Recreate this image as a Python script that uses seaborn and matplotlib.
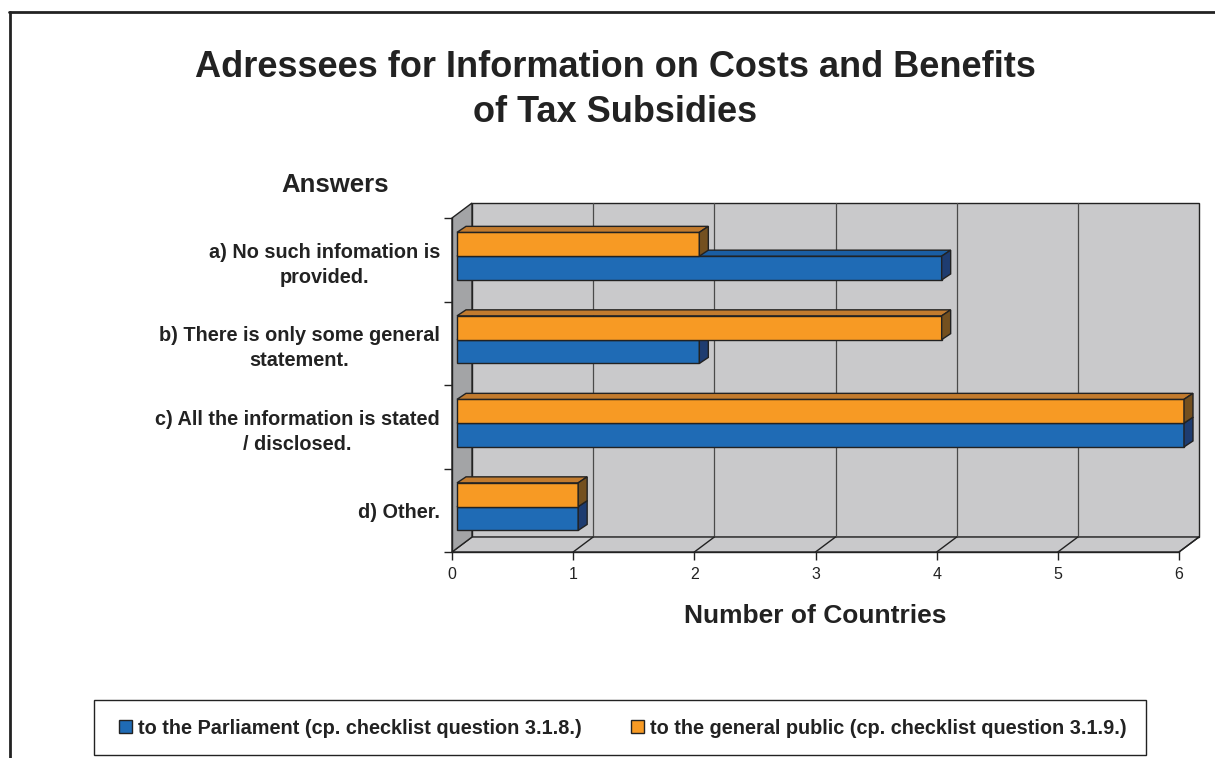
import matplotlib
matplotlib.use("Agg")
import matplotlib.pyplot as plt
from matplotlib import transforms
from matplotlib.patches import Polygon, Rectangle, Patch
from matplotlib.lines import Line2D
import numpy as np
import pandas as pd
import seaborn as sns

# ---- data -------------------------------------------------------------
answers = [
    "a) No such infomation is\nprovided.",
    "b) There is only some general\nstatement.",
    "c) All the information is stated\n/ disclosed.",
    "d) Other.",
]
parliament = [4, 2, 6, 1]
general_public = [2, 4, 6, 1]

label_parliament = "to the Parliament (cp. checklist question 3.1.8.)"
label_public = "to the general public (cp. checklist question 3.1.9.)"

x_ticks = [0, 1, 2, 3, 4, 5, 6]

# ---- style ------------------------------------------------------------
sns.set_theme(style="white")
plt.rcParams["font.family"] = ["Liberation Sans", "DejaVu Sans"]

BLUE, BLUE_SIDE, BLUE_TOP = "#1f6bb5", "#1e3c70", "#1a5ea3"
ORANGE, ORANGE_SIDE, ORANGE_TOP = "#f79a24", "#74501f", "#c27b2e"
WALL, SIDE_WALL, EDGE, GRID = "#c9c9cb", "#a3a4a6", "#222222", "#4a4a4a"

DPI = 100
W, H = 1215, 758
fig = plt.figure(figsize=(W / DPI, H / DPI), dpi=DPI)

# front plane of the pseudo-3D plot area (pixel box)
left_px, right_px, top_px, bottom_px = 452, 1179, 218, 552
ax = fig.add_axes([left_px / W, 1 - bottom_px / H,
                   (right_px - left_px) / W, (bottom_px - top_px) / H])

df = pd.DataFrame({
    "answer": answers * 2,
    "countries": general_public + parliament,
    "addressee": [label_public] * len(answers) + [label_parliament] * len(answers),
})

sns.barplot(data=df, y="answer", x="countries", hue="addressee",
            hue_order=[label_public, label_parliament],
            palette=[ORANGE, BLUE], saturation=1, orient="h", width=0.57,
            edgecolor=EDGE, linewidth=1.0, legend=False, ax=ax)

ax.set_xlim(0, 6)
ax.set_ylim(len(answers) - 0.5, -0.5)
ax.set_xlabel("")
ax.set_ylabel("")
ax.patch.set_visible(False)

# depth offsets in pixels
DX, DY = 20, 15          # front plane -> back wall
BX, BY = 5, 3.6          # front plane -> bar front faces
BD_X, BD_Y = 9, 6        # bar thickness

ident = transforms.IdentityTransform()


def disp(x, y, dx=0.0, dy=0.0):
    px, py = ax.transData.transform((x, y))
    return (px + dx, py + dy)


y_top, y_bot = -0.5, len(answers) - 0.5

# back wall, floor and side wall
ax.add_patch(Polygon([disp(0, y_top, DX, DY), disp(6, y_top, DX, DY),
                      disp(6, y_bot, DX, DY), disp(0, y_bot, DX, DY)],
                     closed=True, fc=WALL, ec=EDGE, lw=1.0,
                     transform=ident, clip_on=False, zorder=0.5))
ax.add_patch(Polygon([disp(0, y_bot), disp(6, y_bot),
                      disp(6, y_bot, DX, DY), disp(0, y_bot, DX, DY)],
                     closed=True, fc=WALL, ec=EDGE, lw=1.0,
                     transform=ident, clip_on=False, zorder=0.6))
ax.add_patch(Polygon([disp(0, y_top), disp(0, y_top, DX, DY),
                      disp(0, y_bot, DX, DY), disp(0, y_bot)],
                     closed=True, fc=SIDE_WALL, ec=EDGE, lw=1.0,
                     transform=ident, clip_on=False, zorder=0.6))

# gridlines on the back wall and across the floor
for k in x_ticks[1:]:
    if k < 6:
        p0, p1 = disp(k, y_top, DX, DY), disp(k, y_bot, DX, DY)
        ax.add_line(Line2D([p0[0], p1[0]], [p0[1], p1[1]], color=GRID, lw=0.9,
                           transform=ident, clip_on=False, zorder=0.7))
    p0, p1 = disp(k, y_bot), disp(k, y_bot, DX, DY)
    ax.add_line(Line2D([p0[0], p1[0]], [p0[1], p1[1]], color=EDGE, lw=1.0,
                       transform=ident, clip_on=False, zorder=0.7))

# bars: shift the front faces into the depth and add top / side faces
shift = ax.transData + transforms.Affine2D().translate(BX, BY)
face_colors = [(ORANGE_TOP, ORANGE_SIDE), (BLUE_TOP, BLUE_SIDE)]
zorders = [4, 3]
for cont, (top_c, side_c), z in zip(ax.containers, face_colors, zorders):
    for bar in cont:
        bar.set_transform(shift)
        bar.set_zorder(z)
        bar.set_clip_on(False)
        x0, y0 = bar.get_x(), bar.get_y()
        w, h = bar.get_width(), bar.get_height()
        xl, yb = disp(x0, y0 + h, BX, BY)
        xr, yt = disp(x0 + w, y0, BX, BY)
        top = [(xl, yt), (xr, yt), (xr + BD_X, yt + BD_Y), (xl + BD_X, yt + BD_Y)]
        side = [(xr, yb), (xr, yt), (xr + BD_X, yt + BD_Y), (xr + BD_X, yb + BD_Y)]
        for pts, c in ((top, top_c), (side, side_c)):
            ax.add_patch(Polygon(pts, closed=True, fc=c, ec=EDGE, lw=1.0,
                                 transform=ident, clip_on=False, zorder=z))

# axes lines and ticks
for s in ("top", "right"):
    ax.spines[s].set_visible(False)
for s in ("left", "bottom"):
    ax.spines[s].set_color(EDGE)
    ax.spines[s].set_linewidth(1.0)
    ax.spines[s].set_zorder(1)

ax.set_xticks(x_ticks)
ax.set_xticklabels([str(t) for t in x_ticks])
ax.tick_params(axis="x", direction="out", length=5.5, width=1.0, color=EDGE,
               labelsize=11.5, labelcolor="#222222", pad=5, bottom=True)
ax.set_yticks(range(len(answers)))
ax.set_yticklabels(answers)
ax.set_yticks(np.arange(-0.5, len(answers), 1.0), minor=True)
ax.tick_params(axis="y", which="major", length=0, pad=8.6, labelsize=14.3,
               labelcolor="#222222", left=True)
ax.tick_params(axis="y", which="minor", direction="out", length=6, width=1.0,
               color=EDGE, left=True)
for lab in ax.get_yticklabels():
    lab.set_fontweight("bold")
    lab.set_multialignment("center")
    lab.set_linespacing(1.4)

# texts
fig.text(615 / W, 1 - 90 / H,
         "Adressees for Information on Costs and Benefits\nof Tax Subsidies",
         ha="center", va="center", fontsize=26, fontweight="bold",
         color="#222222", linespacing=1.35)
fig.text(335 / W, 1 - 185 / H, "Answers", ha="center", va="center",
         fontsize=18.5, fontweight="bold", color="#222222")
fig.text((left_px + right_px) / 2 / W, 1 - 616 / H, "Number of Countries",
         ha="center", va="center", fontsize=19, fontweight="bold", color="#222222")

# legend box
fig.add_artist(Rectangle((94 / W, 1 - 755 / H), (1146 - 94) / W, (755 - 700) / H,
                         transform=fig.transFigure, fc="white", ec=EDGE, lw=1.0))
handles = [Patch(fc=BLUE, ec=EDGE, lw=1.0), Patch(fc=ORANGE, ec=EDGE, lw=1.0)]
fig.legend(handles, [label_parliament, label_public], loc="center",
           bbox_to_anchor=(623 / W, 1 - 728 / H), ncol=2, frameon=False,
           prop={"weight": "bold", "size": 14.3}, handlelength=0.65,
           handleheight=0.65, handletextpad=0.3, columnspacing=2.5,
           labelcolor="#222222")

# outer frame
fig.add_artist(Line2D([9 / W, 1], [1 - 12 / H, 1 - 12 / H], transform=fig.transFigure,
                      color=EDGE, lw=2.0))
fig.add_artist(Line2D([10 / W, 10 / W], [0, 1 - 12 / H], transform=fig.transFigure,
                      color=EDGE, lw=2.0))

fig.savefig("out.png", dpi=DPI, facecolor="white")
